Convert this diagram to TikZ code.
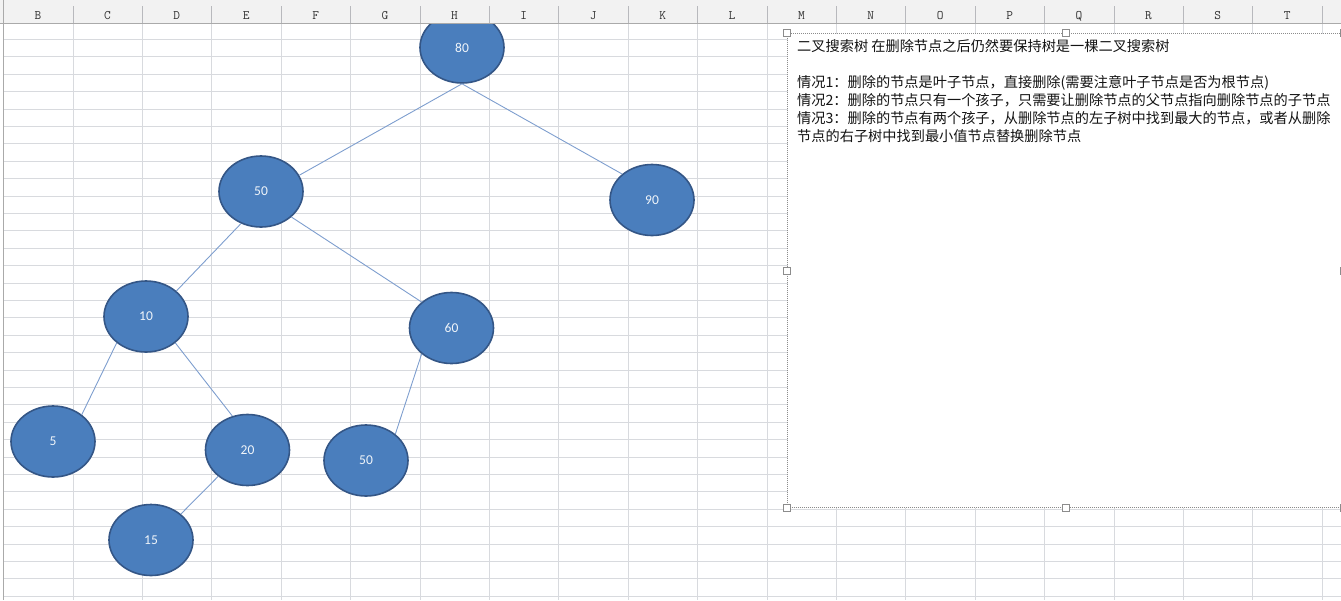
\documentclass[tikz,border=0pt]{standalone}
\usepackage{fontspec}
\setmainfont{Carlito}
\newfontfamily\cjk{Noto Sans CJK SC}
\usetikzlibrary{shapes.geometric, positioning}
\definecolor{nodefill}{RGB}{74,126,189}
\definecolor{nodeline}{RGB}{52,86,134}
\definecolor{linkblue}{RGB}{126,158,206}
\definecolor{gridline}{RGB}{216,218,222}
\definecolor{headfill}{RGB}{242,242,242}
\definecolor{headline}{RGB}{170,170,170}
\definecolor{frame}{RGB}{140,140,140}
\tikzset{
    treenode/.style={ellipse, draw=nodeline, line width=1.6pt, fill=nodefill, minimum width=84pt, minimum height=71pt, inner sep=0pt, text=white!92!nodefill, font=\fontsize{13.5}{15}\selectfont},
    link/.style={draw=linkblue, line width=0.9pt},
    colhead/.style={font=\ttfamily\fontsize{13}{14}\selectfont, text=black!80, inner sep=0pt},
    notebox/.style={rectangle, draw=frame, line width=1.3pt, dash pattern=on 1pt off 1pt, fill=white, minimum width=556pt, minimum height=474pt, inner sep=0pt},
    notetext/.style={align=left, inner sep=0pt, text=black!92, font=\cjk\fontsize{14.2}{18}\selectfont},
    handle/.style={rectangle, draw=frame, fill=white, minimum size=7pt, inner sep=0pt, line width=0.7pt}
}

\begin{document}
\begin{tikzpicture}[x=1pt, y=-1pt]
    \useasboundingbox (0,0) rectangle (1341,600);
    % sheet grid
    \foreach \k in {1,...,33} \draw[gridline, line width=0.8pt] (3.5,22+17.4*\k) -- (1341,22+17.4*\k);
    \foreach \k in {0,...,19} \draw[gridline, line width=0.8pt] (3.5+69.4*\k,23) -- (3.5+69.4*\k,600);

    % tree
    \node[treenode] (n80) at (462,47.5) {80};
    \node[treenode] (n50) at (261,191.5) {50};
    \node[treenode] (n90) at (652,200) {90};
    \node[treenode] (n10) at (146,316.5) {10};
    \node[treenode] (n60) at (451.5,328) {60};
    \node[treenode] (n5) at (53,441.5) {5};
    \node[treenode] (n20) at (247.5,450) {20};
    \node[treenode] (n50b) at (366,460.5) {50};
    \node[treenode] (n15) at (151,540) {15};

    \draw[link] (n80.south) -- (n50.23);
    \draw[link] (n80.south) -- (n90.139);
    \draw[link] (n50.238) -- (n10.40);
    \draw[link] (n50.-40) -- (n60.139);
    \draw[link] (n10.222) -- (n5.43);
    \draw[link] (n10.-42) -- (n20.114);
    \draw[link] (n20.222) -- (n15.41);
    \draw[link] (n60.221) -- (n50b.42);

    % column headers
    \fill[headfill] (0,0) rectangle (1341,23);
    \draw[headline, line width=0.8pt] (0,23) -- (1341,23);
    \draw[headline, line width=0.8pt] (3.5,0) -- (3.5,600);
    \foreach \k in {1,...,19} \draw[gridline!85!black, line width=0.6pt] (3.5+69.4*\k,6) -- (3.5+69.4*\k,23);
    \foreach \c [count=\i from 0] in {B,C,D,E,F,G,H,I,J,K,L,M,N,O,P,Q,R,S,T}
        \node[colhead] (col\c) at (38+69.4*\i,16) {\c};

    % text box
    \node[notebox, anchor=north west] (note) at (787,33) {};
    \node[notetext, anchor=north west] (notes) at (797,39) {二叉搜索树 在删除节点之后仍然要保持树是一棵二叉搜索树\\
        \mbox{}\\
        情况1：删除的节点是叶子节点，直接删除(需要注意叶子节点是否为根节点)\\
        情况2：删除的节点只有一个孩子，只需要让删除节点的父节点指向删除节点的子节点\\
        情况3：删除的节点有两个孩子，从删除节点的左子树中找到最大的节点，或者从删除\\
        节点的右子树中找到最小值节点替换删除节点};
    \foreach \a in {north west,north,north east,west,east,south west,south,south east}
        \node[handle] at (note.\a) {};
\end{tikzpicture}
\end{document}
